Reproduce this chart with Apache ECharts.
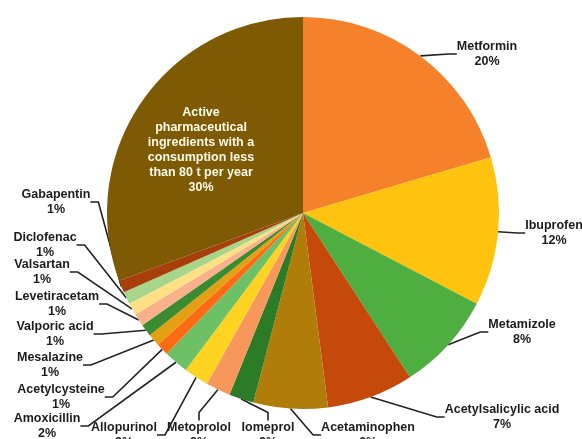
<!DOCTYPE html>
<html>
<head>
<meta charset="utf-8">
<script src="https://cdn.jsdelivr.net/npm/echarts@6/dist/echarts.min.js"></script>
<style>
  html, body { margin: 0; padding: 0; background: #fff; }
  #chart { width: 582px; height: 439px; }
</style>
</head>
<body>
<div id="chart"></div>
<script>
// Share of consumption (%) by active pharmaceutical ingredient
const ingredients = [
  'Metformin', 'Ibuprofen', 'Metamizole', 'Acetylsalicylic acid', 'Acetaminophen',
  'Iomeprol', 'Metoprolol', 'Allopurinol', 'Amoxicillin', 'Acetylcysteine',
  'Mesalazine', 'Valporic acid', 'Levetiracetam', 'Valsartan', 'Diclofenac',
  'Gabapentin',
  'Active\npharmaceutical\ningredients with a\nconsumption less\nthan 80 t per year'
];
const shares = [20, 12, 8, 7, 6, 2, 2, 2, 2, 1, 1, 1, 1, 1, 1, 1, 30];

// Slice colours, same order as the ingredients
const sliceColors = [
  '#F5822A', '#FFC30F', '#4EAF40', '#C4490B', '#B07D0A',
  '#2C7B27', '#F7975C', '#FFD322', '#6EC066', '#FF6A14',
  '#E3A013', '#3B8C31', '#F9B18C', '#FFE084', '#A7D68B',
  '#A83F0B', '#7E5A05'
];

// Centre of each label block, in pixels
const labelCenters = [
  [487, 54], [554, 233], [522, 332], [502, 417], [368, 435],
  [268, 435], [199, 435], [124, 435], [47, 426], [61, 397],
  [50, 365], [55, 334], [57, 304], [42, 272], [45, 245],
  [56, 202], [201, 150]
];

const lastIndex = shares.length - 1;

const chart = echarts.init(document.getElementById('chart'), null, { renderer: 'canvas' });

chart.setOption({
  backgroundColor: '#ffffff',
  animation: false,
  series: [{
    type: 'pie',
    center: [303, 213],
    radius: [0, 196],
    startAngle: 90,
    clockwise: true,
    avoidLabelOverlap: false,
    data: ingredients.map((name, i) => ({
      name: name,
      value: shares[i],
      itemStyle: { color: sliceColors[i] },
      label: i === lastIndex ? {
        position: 'inside',
        color: '#fffbe8',
        lineHeight: 15
      } : {},
      labelLine: i === lastIndex ? { show: false } : {}
    })),
    label: {
      show: true,
      position: 'outside',
      formatter: '{b}\n{c}%',
      fontFamily: 'Liberation Sans, Arial, sans-serif',
      fontWeight: 'bold',
      fontSize: 12.5,
      lineHeight: 14.5,
      color: '#1c1c1c',
      align: 'center'
    },
    labelLine: {
      show: true,
      length: 10,
      length2: 8,
      lineStyle: { color: '#222222', width: 1.6 }
    },
    labelLayout: function (params) {
      const c = labelCenters[params.dataIndex];
      return {
        x: c[0],
        y: c[1],
        align: 'center',
        verticalAlign: 'middle',
        hideOverlap: false
      };
    }
  }]
});
</script>
</body>
</html>
